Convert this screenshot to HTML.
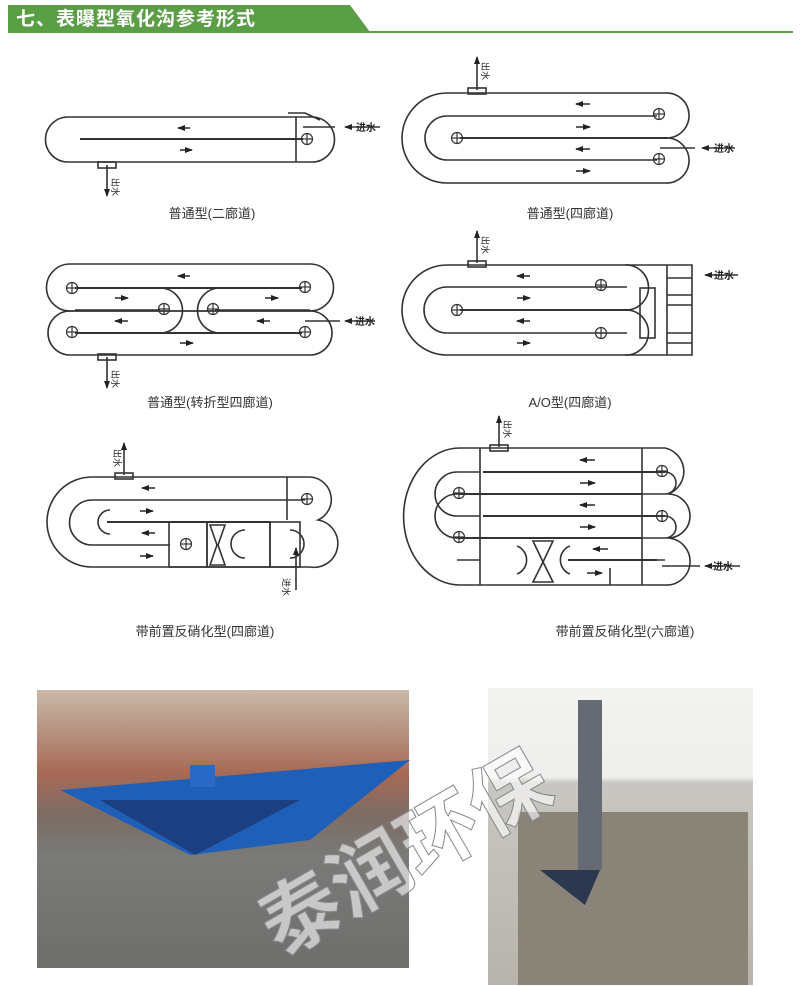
<!DOCTYPE html>
<html><head><meta charset="utf-8"><style>
html,body{margin:0;padding:0;background:#fff;}
body{width:800px;height:987px;position:relative;overflow:hidden;font-family:"Liberation Sans","Noto Sans CJK SC",sans-serif;}
</style></head><body>
<svg width="800" height="987" viewBox="0 0 800 987" xmlns="http://www.w3.org/2000/svg" style="position:absolute;left:0;top:0">
<defs>
<marker id="ah" markerUnits="userSpaceOnUse" markerWidth="8" markerHeight="6" refX="7" refY="3" orient="auto"><path d="M0,0 L8,3 L0,6 z" fill="#222"/></marker>
<g id="c" fill="none" stroke="#333" stroke-width="1.2"><circle r="5.5"/><line x1="-5.5" y1="0" x2="5.5" y2="0"/><line x1="0" y1="-5.5" x2="0" y2="5.5"/></g>
<linearGradient id="g1" x1="0" y1="0" x2="0" y2="1"><stop offset="0" stop-color="#c8b9a8"/><stop offset="0.3" stop-color="#a66a55"/><stop offset="0.45" stop-color="#7d6c64"/><stop offset="0.6" stop-color="#7a7a78"/><stop offset="1" stop-color="#6e6f6c"/></linearGradient>
<linearGradient id="g2" x1="0" y1="0" x2="0" y2="1"><stop offset="0" stop-color="#f2f2f0"/><stop offset="0.3" stop-color="#eeeeec"/><stop offset="0.32" stop-color="#c9c7c2"/><stop offset="1" stop-color="#b8b4ac"/></linearGradient>
</defs>
<!-- header -->
<path d="M8,5 L350,5 L370,32 L8,32 z" fill="#5a9e45"/>
<rect x="8" y="31" width="785" height="2" fill="#5a9e45"/>
<text x="16" y="25" font-size="19" font-weight="bold" fill="#fff" font-family="Liberation Sans,Noto Sans CJK SC,sans-serif" letter-spacing="1">七、表曝型氧化沟参考形式</text>

<g fill="none" stroke="#333" stroke-width="1.6">
<!-- D1 -->
<path d="M68,117 L312,117 A22,22 0 0 1 312,162 L68,162 A22,22 0 0 1 68,117 z"/>
<line x1="80" y1="139" x2="303" y2="139" stroke-width="2"/>
<line x1="296" y1="117" x2="296" y2="162"/>
<path d="M288,113 L305,113 L320,120"/>
<rect x="98" y="162" width="18" height="6"/>
<line x1="107" y1="165" x2="107" y2="196" marker-end="url(#ah)"/>
<line x1="303" y1="127" x2="335" y2="127"/>
<line x1="380" y1="127" x2="345" y2="127" marker-end="url(#ah)"/>
<line x1="190" y1="128" x2="178" y2="128" marker-end="url(#ah)"/>
<line x1="180" y1="150" x2="192" y2="150" marker-end="url(#ah)"/>

<!-- D2 -->
<path d="M447,93 L665,93 A22.5,22.5 0 0 1 668,138 A22.5,22.5 0 0 1 665,183 L447,183 A45,45 0 0 1 447,93 z"/>
<path d="M657,116 L447,116 A22,22 0 0 0 447,160 L657,160"/>
<line x1="460" y1="138" x2="668" y2="138" stroke-width="2"/>
<rect x="468" y="88" width="18" height="6"/>
<line x1="477" y1="90" x2="477" y2="57" marker-end="url(#ah)"/>
<line x1="735" y1="148" x2="702" y2="148" marker-end="url(#ah)"/>
<line x1="660" y1="148" x2="695" y2="148"/>
<line x1="590" y1="104" x2="576" y2="104" marker-end="url(#ah)"/>
<line x1="576" y1="127" x2="590" y2="127" marker-end="url(#ah)"/>
<line x1="590" y1="149" x2="576" y2="149" marker-end="url(#ah)"/>
<line x1="576" y1="171" x2="590" y2="171" marker-end="url(#ah)"/>

<!-- D3 -->
<path d="M70,264 L310,264 A23.5,23.5 0 0 1 310,311 L70,311 A23.5,23.5 0 0 1 70,264 z"/>
<path d="M70,311 L310,311 A22,22 0 0 1 310,355 L70,355 A22,22 0 0 1 70,311 z"/>
<line x1="75" y1="288" x2="302" y2="288" stroke-width="2"/>
<line x1="75" y1="333" x2="302" y2="333" stroke-width="2"/>
<path d="M160,310 L75,310 M215,310 L310,310"/>
<path d="M160,288 A22,22 0 0 1 160,333"/>
<path d="M220,288 A22,22 0 0 0 220,333"/>
<rect x="98" y="354" width="18" height="6"/>
<line x1="107" y1="357" x2="107" y2="388" marker-end="url(#ah)"/>
<line x1="340" y1="321" x2="305" y2="321"/>
<line x1="375" y1="321" x2="345" y2="321" marker-end="url(#ah)"/>
<line x1="190" y1="276" x2="178" y2="276" marker-end="url(#ah)"/>
<line x1="115" y1="298" x2="128" y2="298" marker-end="url(#ah)"/>
<line x1="265" y1="298" x2="278" y2="298" marker-end="url(#ah)"/>
<line x1="128" y1="321" x2="115" y2="321" marker-end="url(#ah)"/>
<line x1="270" y1="321" x2="257" y2="321" marker-end="url(#ah)"/>
<line x1="180" y1="343" x2="193" y2="343" marker-end="url(#ah)"/>

<!-- D4 -->
<path d="M447,265 L692,265 L692,355 L447,355 A45,45 0 0 1 447,265 z"/>
<path d="M627,287 L447,287 A22,22 0 0 0 447,333 L627,333"/>
<line x1="460" y1="310" x2="630" y2="310" stroke-width="2"/>
<path d="M625,265 A22,22 0 0 1 627,310 M627,310 A22,22 0 0 1 625,355"/>
<rect x="640" y="288" width="15" height="50"/>
<line x1="667" y1="265" x2="667" y2="355"/>
<line x1="667" y1="278" x2="692" y2="278"/><line x1="667" y1="295" x2="692" y2="295"/><line x1="667" y1="305" x2="692" y2="305"/><line x1="667" y1="333" x2="692" y2="333"/><line x1="667" y1="343" x2="692" y2="343"/>
<rect x="468" y="261" width="18" height="6"/>
<line x1="477" y1="263" x2="477" y2="231" marker-end="url(#ah)"/>
<line x1="738" y1="275" x2="705" y2="275" marker-end="url(#ah)"/>
<line x1="530" y1="276" x2="517" y2="276" marker-end="url(#ah)"/>
<line x1="517" y1="298" x2="530" y2="298" marker-end="url(#ah)"/>
<line x1="530" y1="321" x2="517" y2="321" marker-end="url(#ah)"/>
<line x1="517" y1="343" x2="530" y2="343" marker-end="url(#ah)"/>

<!-- D5 -->
<path d="M92,477 L310,477 A22.5,22.5 0 0 1 318,520 A22,22 0 0 1 310,567 L92,567 A45,45 0 0 1 92,477 z"/>
<path d="M305,500 L92,500 A22,22 0 0 0 92,545 L170,545"/>
<line x1="107" y1="522" x2="270" y2="522" stroke-width="2"/>
<path d="M110,510 A12,12 0 0 0 110,534"/>
<rect x="169" y="522" width="38" height="45"/><rect x="207" y="522" width="63" height="45"/><rect x="270" y="522" width="30" height="45"/>
<line x1="287" y1="477" x2="287" y2="520"/>
<path d="M210,525 L225,525 L218,545 L225,565 L210,565 L217,545 z"/>
<path d="M245,530 A14,14 0 0 0 245,558"/><path d="M290,530 A14,14 0 0 1 290,558"/>
<rect x="115" y="473" width="18" height="6"/>
<line x1="124" y1="475" x2="124" y2="443" marker-end="url(#ah)"/>
<line x1="296" y1="590" x2="296" y2="548" marker-end="url(#ah)"/>
<line x1="155" y1="488" x2="142" y2="488" marker-end="url(#ah)"/>
<line x1="140" y1="511" x2="153" y2="511" marker-end="url(#ah)"/>
<line x1="155" y1="533" x2="142" y2="533" marker-end="url(#ah)"/>
<line x1="140" y1="556" x2="153" y2="556" marker-end="url(#ah)"/>

<!-- D6 -->
<path d="M460,448 L665,448 A24,24 0 0 1 668,494 A22,22 0 0 1 668,538 A23,23 0 0 1 665,585 L460,585 A56,68 0 0 1 460,448 z"/>
<path d="M480,472 L457,472 A22,22 0 0 0 457,516 L480,516 M480,494 L457,494 A22,22 0 0 0 457,538 L480,538 M480,560 L457,560"/>
<path d="M642,472 L665,472 A11,11 0 0 1 665,494 L642,494 M642,516 L665,516 A11,11 0 0 1 665,538 L642,538 M642,560 L665,560"/>
<line x1="480" y1="448" x2="480" y2="585"/><line x1="642" y1="448" x2="642" y2="585"/>
<line x1="483" y1="472" x2="665" y2="472" stroke-width="2"/>
<line x1="458" y1="494" x2="642" y2="494" stroke-width="2"/>
<line x1="483" y1="516" x2="665" y2="516" stroke-width="2"/>
<line x1="458" y1="538" x2="642" y2="538" stroke-width="2"/>
<line x1="568" y1="560" x2="657" y2="560" stroke-width="2"/>
<path d="M533,541 L553,541 L543,562 L553,582 L533,582 L543,562 z"/>
<path d="M517,546 A15,15 0 0 1 517,574"/><path d="M570,546 A15,15 0 0 0 570,574"/>
<line x1="610" y1="568" x2="610" y2="585"/>
<rect x="490" y="445" width="18" height="6"/>
<line x1="499" y1="447" x2="499" y2="416" marker-end="url(#ah)"/>
<line x1="662" y1="566" x2="700" y2="566"/>
<line x1="740" y1="566" x2="705" y2="566" marker-end="url(#ah)"/>
<line x1="595" y1="460" x2="580" y2="460" marker-end="url(#ah)"/>
<line x1="580" y1="483" x2="595" y2="483" marker-end="url(#ah)"/>
<line x1="595" y1="505" x2="580" y2="505" marker-end="url(#ah)"/>
<line x1="580" y1="527" x2="595" y2="527" marker-end="url(#ah)"/>
<line x1="608" y1="549" x2="593" y2="549" marker-end="url(#ah)"/>
<line x1="587" y1="573" x2="602" y2="573" marker-end="url(#ah)"/>
</g>
<g fill="#fff">
<use href="#c" x="307" y="139"/>
<use href="#c" x="659" y="114"/><use href="#c" x="457" y="138"/><use href="#c" x="659" y="159"/>
<use href="#c" x="72" y="288"/><use href="#c" x="164" y="309"/><use href="#c" x="213" y="309"/><use href="#c" x="305" y="287"/><use href="#c" x="72" y="332"/><use href="#c" x="305" y="332"/>
<use href="#c" x="601" y="285"/><use href="#c" x="457" y="310"/><use href="#c" x="601" y="333"/>
<use href="#c" x="307" y="499"/><use href="#c" x="186" y="544"/>
<use href="#c" x="662" y="471"/><use href="#c" x="459" y="493"/><use href="#c" x="662" y="516"/><use href="#c" x="459" y="537"/>
</g>

<g font-family="Liberation Sans,Noto Sans CJK SC,sans-serif" fill="#222">
<text x="356" y="131" font-size="10" font-weight="bold">进水</text>
<text x="714" y="152" font-size="10" font-weight="bold">进水</text>
<text x="355" y="325" font-size="10" font-weight="bold">进水</text>
<text x="714" y="279" font-size="10" font-weight="bold">进水</text>
<text x="713" y="570" font-size="10" font-weight="bold">进水</text>
<text font-size="9" transform="translate(112,178) rotate(90)">出水</text>
<text font-size="9" transform="translate(482,62) rotate(90)">出水</text>
<text font-size="9" transform="translate(112,370) rotate(90)">出水</text>
<text font-size="9" transform="translate(482,236) rotate(90)">出水</text>
<text font-size="9" transform="translate(114,449) rotate(90)">出水</text>
<text font-size="9" transform="translate(504,420) rotate(90)">出水</text>
<text font-size="9" transform="translate(283,578) rotate(90)">进水</text>
<g font-size="13" fill="#333" text-anchor="middle">
<text x="212" y="218">普通型(二廊道)</text>
<text x="570" y="218">普通型(四廊道)</text>
<text x="210" y="407">普通型(转折型四廊道)</text>
<text x="570" y="407">A/O型(四廊道)</text>
<text x="205" y="636">带前置反硝化型(四廊道)</text>
<text x="625" y="636">带前置反硝化型(六廊道)</text>
</g>
</g>

<!-- photos -->
<rect x="37" y="690" width="372" height="278" fill="url(#g1)"/>
<path d="M60,790 L410,760 L310,840 L190,855 z" fill="#1f5fb8"/>
<path d="M100,800 L300,800 L195,855 z" fill="#1b3f80"/>
<rect x="190" y="765" width="25" height="22" fill="#2a6ac6"/>
<rect x="488" y="688" width="265" height="297" fill="url(#g2)"/>
<rect x="518" y="812" width="230" height="173" fill="#8a8378"/>
<path d="M540,870 L600,870 L585,905 z" fill="#2b3850"/>
<rect x="578" y="700" width="24" height="170" fill="#666a72"/>
<g font-family="Liberation Sans,Noto Sans CJK SC,sans-serif" font-size="80" font-weight="bold" fill="#fff" fill-opacity="0.6" stroke="#888" stroke-width="1" transform="rotate(-30 420 820)">
<text x="230" y="870">泰润环保</text>
</g>
</svg>
</body></html>
